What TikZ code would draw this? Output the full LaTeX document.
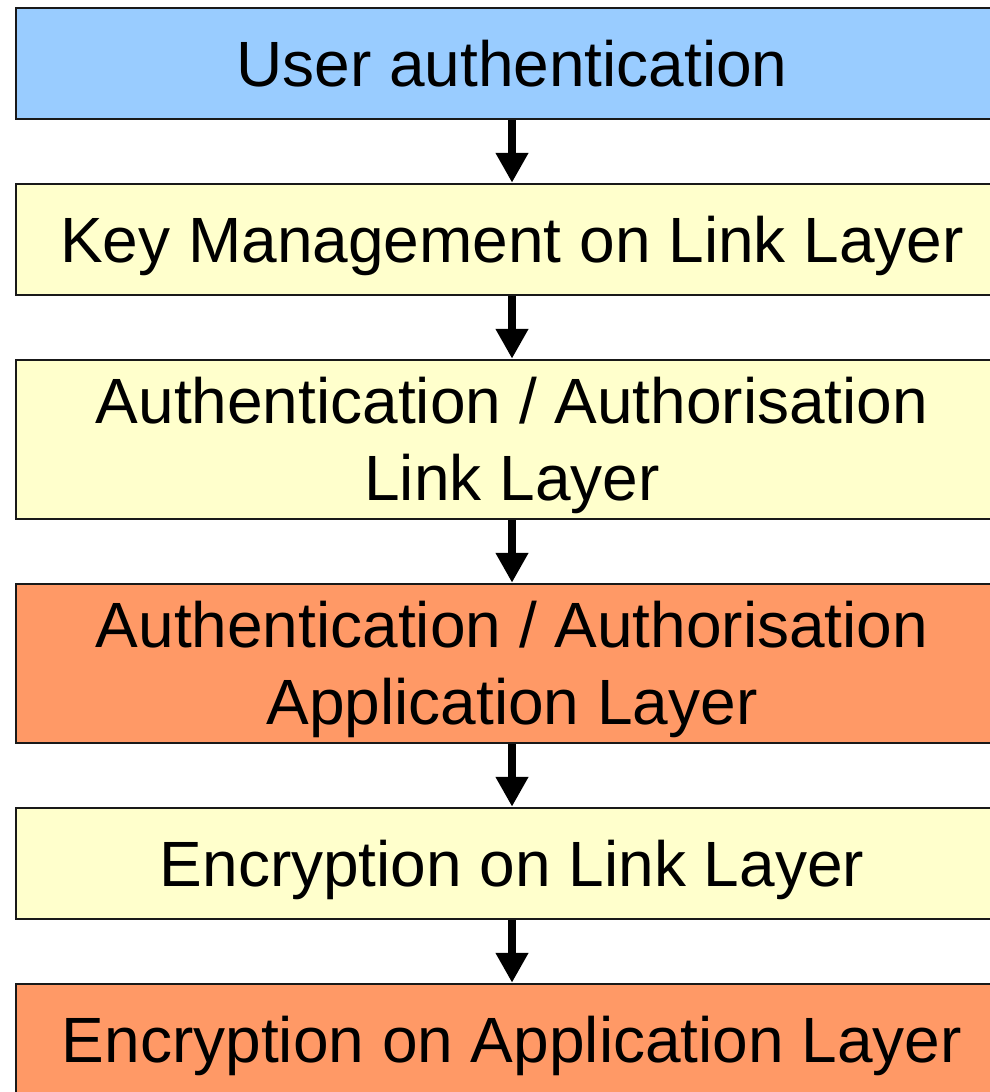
\documentclass[tikz,border=0pt]{standalone}
\usepackage{fontspec}
\setmainfont{Liberation Sans}
\usetikzlibrary{arrows.meta}
\definecolor{userblue}{HTML}{99CCFF}
\definecolor{linkyellow}{HTML}{FFFFCC}
\definecolor{appliorange}{HTML}{FF9966}
\tikzset{
  layerbox/.style={draw=black!90, line width=2.5pt, minimum width=992pt,
    inner sep=0pt, align=center,
    font=\fontsize{64pt}{77pt}\selectfont},
  oneline/.style={minimum height=111pt, text height=45.8pt, text depth=0pt},
  twoline/.style={minimum height=159pt, text height=122.8pt, text depth=0pt},
  flowarrow/.style={line width=7.5pt, -{Triangle[length=30pt,width=31pt]}}
}
\begin{document}
\begin{tikzpicture}[x=1pt,y=1pt]
  \useasboundingbox (0,0) rectangle (990,-1092);
  \node[layerbox, oneline, fill=userblue] (b1) at (512,-63.5)
    {User authentication};
  \node[layerbox, oneline, fill=linkyellow] (b2) at (512,-239.5)
    {Key Management on Link Layer};
  \node[layerbox, twoline, fill=linkyellow] (b3) at (512,-439.5)
    {Authentication / Authorisation\\Link Layer};
  \node[layerbox, twoline, fill=appliorange] (b4) at (512,-663.5)
    {Authentication / Authorisation\\Application Layer};
  \node[layerbox, oneline, fill=linkyellow] (b5) at (512,-863.5)
    {Encryption on Link Layer};
  \node[layerbox, oneline, fill=appliorange] (b6) at (512,-1039.5)
    {Encryption on Application Layer};
  \draw[flowarrow] (b1.south) -- (b2.north);
  \draw[flowarrow] (b2.south) -- (b3.north);
  \draw[flowarrow] (b3.south) -- (b4.north);
  \draw[flowarrow] (b4.south) -- (b5.north);
  \draw[flowarrow] (b5.south) -- (b6.north);
\end{tikzpicture}
\end{document}
